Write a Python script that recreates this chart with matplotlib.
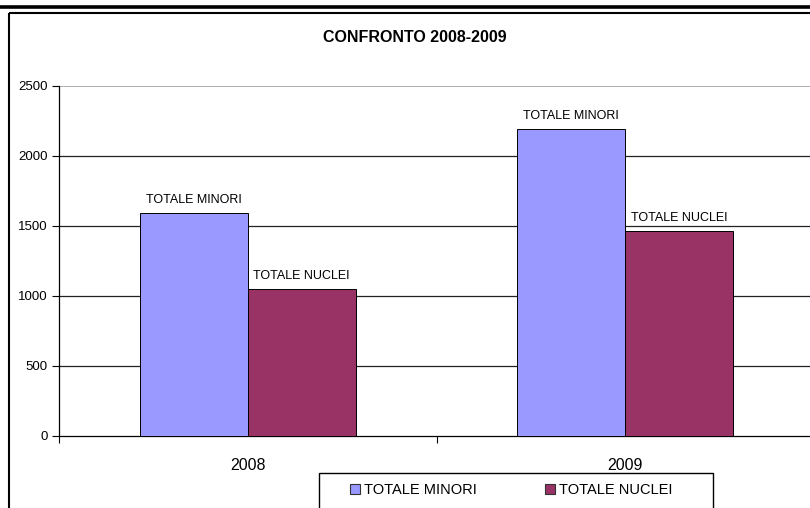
import matplotlib
matplotlib.use("Agg")
import matplotlib.pyplot as plt
from matplotlib.patches import Rectangle
import numpy as np

plt.rcParams['font.family'] = ['Liberation Sans', 'DejaVu Sans']

title = "CONFRONTO 2008-2009"
categories = ["2008", "2009"]
series_names = ["TOTALE MINORI", "TOTALE NUCLEI"]
minori = [1590, 2190]
nuclei = [1050, 1465]
colors = ["#9999FF", "#993366"]
yticks = [0, 500, 1000, 1500, 2000, 2500]

W, H = 810, 508
fig = plt.figure(figsize=(W / 100, H / 100), dpi=100)

# overlay for decorations in pixel coordinates
ov = fig.add_axes([0, 0, 1, 1], zorder=0)
ov.set_xlim(0, W)
ov.set_ylim(H, 0)
ov.axis('off')
ov.plot([0, W], [6.5, 6.5], color='black', lw=2.6, solid_capstyle='butt')
ov.add_patch(Rectangle((8.5, 12.5), 840, 520, fill=False, ec='black', lw=1.5))

ax = fig.add_axes([59 / W, (H - 436) / H, (814 - 59) / W, 350 / H], zorder=1)
ax.patch.set_alpha(0)
x = np.arange(len(categories))
bw = 0.2857
b1 = ax.bar(x - bw / 2, minori, bw, color=colors[0], edgecolor='black', lw=0.7, label=series_names[0], zorder=3)
b2 = ax.bar(x + bw / 2, nuclei, bw, color=colors[1], edgecolor='black', lw=0.7, label=series_names[1], zorder=3)
for bars, name in ((b1, series_names[0]), (b2, series_names[1])):
    for r in bars:
        ax.annotate(name, (r.get_x() + r.get_width() / 2, r.get_height()),
                    xytext=(0, 5), textcoords='offset points', ha='center', va='bottom', fontsize=9)

ax.set_xlim(-0.5, len(categories) - 0.5)
ax.set_ylim(0, 2500)
ax.set_yticks(yticks)
ax.set_yticklabels([str(t) for t in yticks], fontsize=9.5)
ax.set_xticks(x)
ax.set_xticklabels(categories, fontsize=11.5)
ax.set_xticks(np.arange(-0.5, len(categories), 1.0), minor=True)
ax.tick_params(axis='x', which='major', length=0, pad=16)
ax.tick_params(axis='x', which='minor', length=5, direction='out', width=0.8)
ax.tick_params(axis='y', length=5, direction='out', width=0.8, pad=3)
for y in yticks[1:-1]:
    ax.axhline(y, color='#222222', lw=0.9, zorder=1)
ax.axhline(2500, color='#A0A0A0', lw=1.2, zorder=1)
ax.spines['top'].set_visible(False)
ax.spines['right'].set_visible(False)
ax.spines['left'].set_linewidth(0.9)
ax.spines['bottom'].set_linewidth(0.9)

fig.text(415 / W, 1 - 37 / H, title, ha='center', va='center', fontsize=11.5, fontweight='bold')

# legend
lg = fig.add_axes([0, 0, 1, 1], zorder=2)
lg.set_xlim(0, W)
lg.set_ylim(H, 0)
lg.axis('off')
lg.add_patch(Rectangle((318.5, 472.5), 394, 45, fill=True, fc='white', ec='black', lw=1.0))
for mx, name, c in ((350, series_names[0], colors[0]), (545, series_names[1], colors[1])):
    lg.add_patch(Rectangle((mx, 484), 10, 10, fc=c, ec='#333333', lw=0.8))
    lg.text(mx + 14, 489.5, name, ha='left', va='center', fontsize=10.5)

fig.savefig("out.png", dpi=100)
